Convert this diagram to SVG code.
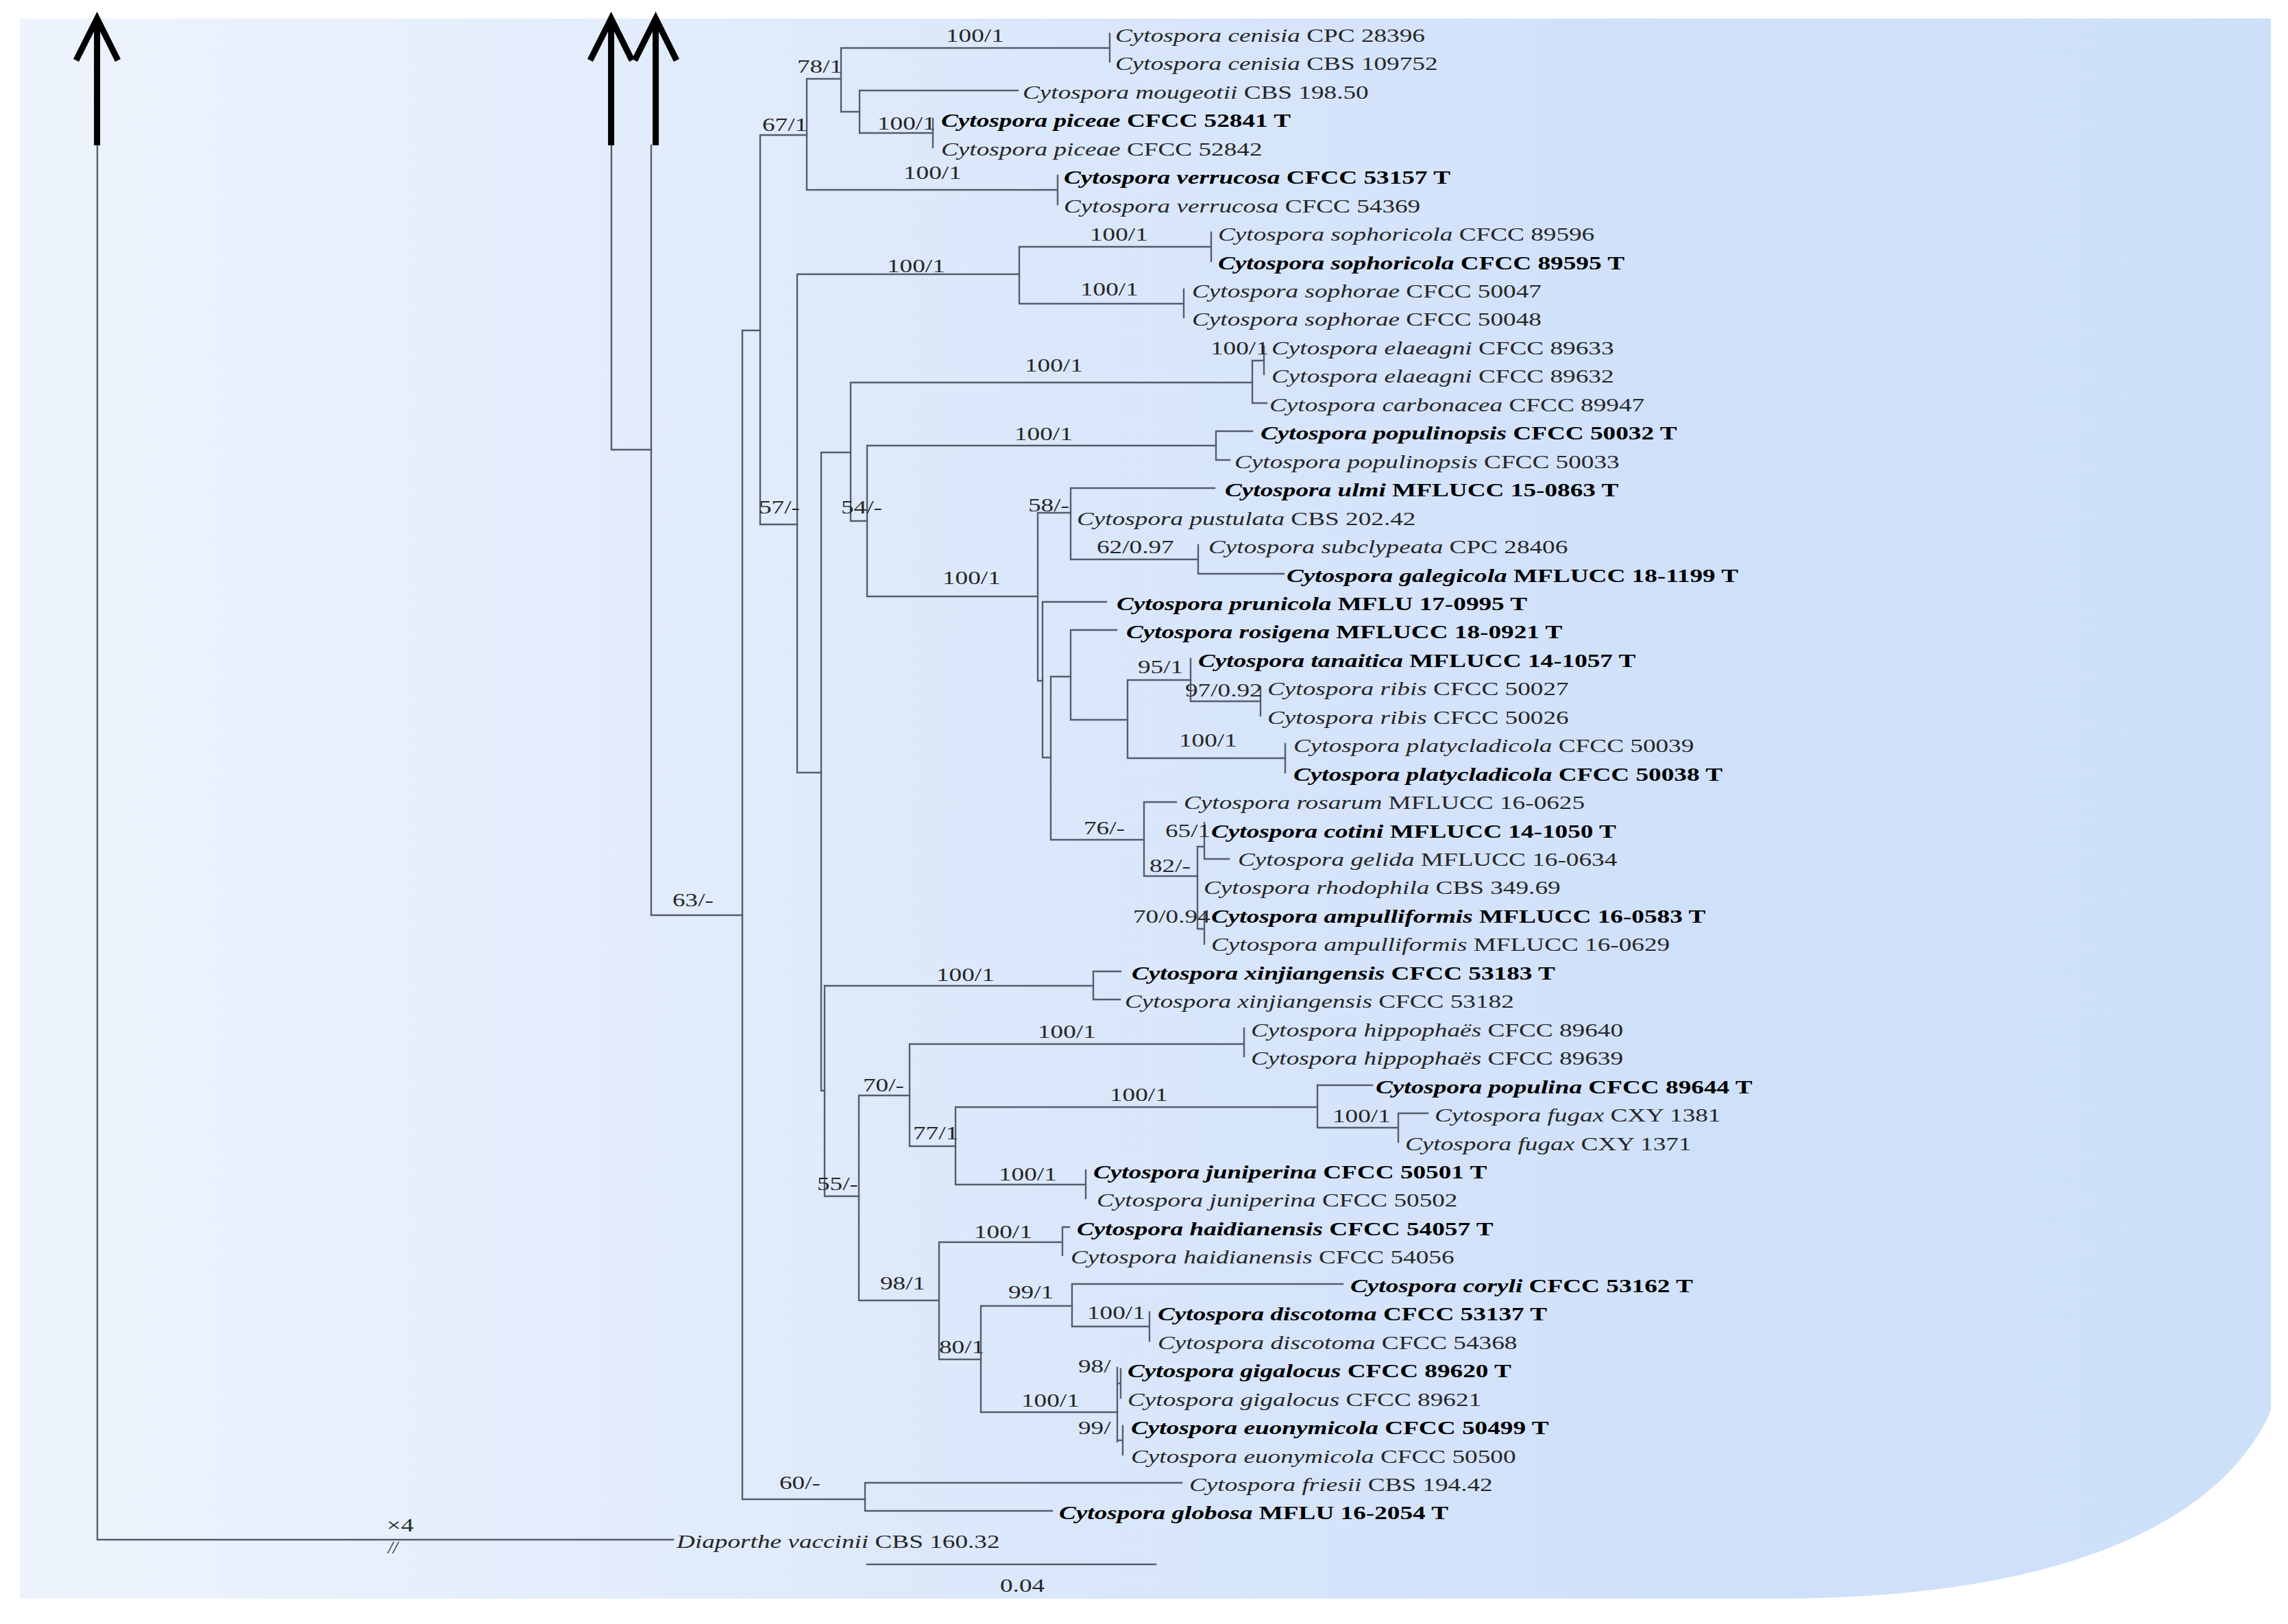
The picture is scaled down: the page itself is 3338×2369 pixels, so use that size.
<svg xmlns="http://www.w3.org/2000/svg" width="3338" height="2369" viewBox="0 0 3338 2369">
<defs>
<linearGradient id="bg" gradientUnits="userSpaceOnUse" x1="29" y1="0" x2="3313" y2="0">
<stop offset="0" stop-color="#eef4fd"/>
<stop offset="0.4" stop-color="#dde9fb"/>
<stop offset="0.75" stop-color="#cfe0fa"/>
<stop offset="1" stop-color="#cde0fa"/>
</linearGradient>
<style>
.t{font-family:"Liberation Serif","Times New Roman",serif;font-size:28px;fill:#262626}
.b{font-weight:bold;fill:#000}
.i{font-style:italic}
.s{font-family:"Liberation Serif","Times New Roman",serif;font-size:28px;fill:#262626}
.c{fill:none;stroke:#555d6b;stroke-width:2.4;stroke-linecap:square}
.a{fill:none;stroke:#000;stroke-width:9;stroke-linejoin:miter}
</style>
</defs>
<rect width="3338" height="2369" fill="#fff"/>
<path d="M29 27 H3313 V2058 C3250 2200 3050 2330 2600 2332 H29 Z" fill="url(#bg)"/>

<g id="connectors" class="c">
<path d="M142 212 V2246 H982"/>
<path d="M892 212 V656 H950"/>
<path d="M950 212 V1335 H1083"/>
<path d="M1083 482 V2187 M1083 482 H1109 M1083 2187 H1262"/>
<path d="M1262 2163 V2204 M1262 2163 H1724 M1262 2204 H1535"/>
<path d="M1109 197 V765 M1109 197 H1177 M1109 765 H1163"/>
<path d="M1177 115 V277 M1177 115 H1227 M1177 277 H1543 M1543 256 V298"/>
<path d="M1227 70 V163 M1227 70 H1619 M1227 163 H1254 M1619 49 V90"/>
<path d="M1254 132 V194 M1254 132 H1485 M1254 194 H1361 M1361 173 V215"/>
<path d="M1163 400 V1127 M1163 400 H1487 M1163 1127 H1198"/>
<path d="M1487 360 V443 M1487 360 H1767 M1487 443 H1727 M1767 339 V381 M1727 422 V463"/>
<path d="M1198 660 V1591 M1198 660 H1241 M1198 1591 H1203"/>
<path d="M1241 558 V760 M1241 558 H1827 M1241 760 H1265"/>
<path d="M1827 526 V588 H1848 M1827 526 H1844 M1844 505 V546"/>
<path d="M1265 650 V870 M1265 650 H1774 M1265 870 H1514"/>
<path d="M1774 629 V671 M1774 629 H1827 M1774 671 H1794"/>
<path d="M1514 748 V993 M1514 748 H1562 M1514 993 H1521"/>
<path d="M1562 712 V816 M1562 712 H1772 M1562 816 H1748 M1748 795 V837 H1873"/>
<path d="M1521 878 V1105 M1521 878 H1614 M1521 1105 H1533"/>
<path d="M1533 987 V1225 M1533 987 H1562 M1533 1225 H1669"/>
<path d="M1562 919 V1050 M1562 919 H1629 M1562 1050 H1645"/>
<path d="M1645 992 V1106 M1645 992 H1737 M1645 1106 H1875 M1875 1085 V1127"/>
<path d="M1737 961 V1023 M1737 1023 H1839 M1839 1002 V1044"/>
<path d="M1669 1170 V1278 M1669 1170 H1716 M1669 1278 H1747"/>
<path d="M1747 1235 V1355 M1747 1235 H1757 M1747 1355 H1757 M1757 1200 V1253 M1757 1253 H1793 M1757 1330 V1377"/>
<path d="M1203 1438 V1745 M1203 1438 H1595 M1203 1745 H1253"/>
<path d="M1595 1417 V1458 M1595 1417 H1635 M1595 1458 H1634"/>
<path d="M1253 1598 V1897 M1253 1598 H1327 M1253 1897 H1370"/>
<path d="M1327 1523 V1672 M1327 1523 H1815 M1327 1672 H1394 M1815 1500 V1541"/>
<path d="M1394 1615 V1728 M1394 1615 H1922 M1394 1728 H1584 M1584 1707 V1748"/>
<path d="M1922 1583 V1645 M1922 1583 H2002 M1922 1645 H2040 M2040 1624 V1666 M2040 1624 H2083"/>
<path d="M1370 1812 V1983 M1370 1812 H1550 M1370 1983 H1431 M1550 1790 V1831 M1550 1790 H1560"/>
<path d="M1431 1905 V2060 M1431 1905 H1564 M1431 2060 H1630"/>
<path d="M1564 1873 V1935 M1564 1873 H1959 M1564 1935 H1677 M1677 1914 V1956"/>
<path d="M1630 1995 V2103 M1630 2018 H1635 M1630 2101 H1638 M1635 1997 V2039 M1638 2080 V2122"/>
<path d="M1265 2282 H1686"/>
</g>

<g id="arrows" class="a">
<path d="M141.6 212 V32 M111 88 L141.6 27 L172 88"/>
<path d="M891.6 212 V32 M861 88 L891.6 27 L922 88"/>
<path d="M956.6 212 V32 M926 88 L956.6 27 L987 88"/>
</g>

<g id="taxa">
<g id="tip1"><text class="t" transform="translate(1627,61) scale(1.33,1)"><tspan class="i">Cytospora cenisia</tspan> CPC 28396</text></g>
<g id="tip2"><text class="t" transform="translate(1627,102) scale(1.33,1)"><tspan class="i">Cytospora cenisia</tspan> CBS 109752</text></g>
<g id="tip3"><text class="t" transform="translate(1492,144) scale(1.33,1)"><tspan class="i">Cytospora mougeotii</tspan> CBS 198.50</text></g>
<g id="tip4"><text class="t b" transform="translate(1373,185) scale(1.33,1)"><tspan class="i">Cytospora piceae</tspan> CFCC 52841 T</text></g>
<g id="tip5"><text class="t" transform="translate(1373,227) scale(1.33,1)"><tspan class="i">Cytospora piceae</tspan> CFCC 52842</text></g>
<g id="tip6"><text class="t b" transform="translate(1552,268) scale(1.33,1)"><tspan class="i">Cytospora verrucosa</tspan> CFCC 53157 T</text></g>
<g id="tip7"><text class="t" transform="translate(1552,310) scale(1.33,1)"><tspan class="i">Cytospora verrucosa</tspan> CFCC 54369</text></g>
<g id="tip8"><text class="t" transform="translate(1777,351) scale(1.33,1)"><tspan class="i">Cytospora sophoricola</tspan> CFCC 89596</text></g>
<g id="tip9"><text class="t b" transform="translate(1777,393) scale(1.33,1)"><tspan class="i">Cytospora sophoricola</tspan> CFCC 89595 T</text></g>
<g id="tip10"><text class="t" transform="translate(1739,434) scale(1.33,1)"><tspan class="i">Cytospora sophorae</tspan> CFCC 50047</text></g>
<g id="tip11"><text class="t" transform="translate(1739,475) scale(1.33,1)"><tspan class="i">Cytospora sophorae</tspan> CFCC 50048</text></g>
<g id="tip12"><text class="t" transform="translate(1855,517) scale(1.33,1)"><tspan class="i">Cytospora elaeagni</tspan> CFCC 89633</text></g>
<g id="tip13"><text class="t" transform="translate(1855,558) scale(1.33,1)"><tspan class="i">Cytospora elaeagni</tspan> CFCC 89632</text></g>
<g id="tip14"><text class="t" transform="translate(1852,600) scale(1.33,1)"><tspan class="i">Cytospora carbonacea</tspan> CFCC 89947</text></g>
<g id="tip15"><text class="t b" transform="translate(1839,641) scale(1.33,1)"><tspan class="i">Cytospora populinopsis</tspan> CFCC 50032 T</text></g>
<g id="tip16"><text class="t" transform="translate(1801,683) scale(1.33,1)"><tspan class="i">Cytospora populinopsis</tspan> CFCC 50033</text></g>
<g id="tip17"><text class="t b" transform="translate(1787,724) scale(1.33,1)"><tspan class="i">Cytospora ulmi</tspan> MFLUCC 15-0863 T</text></g>
<g id="tip18"><text class="t" transform="translate(1571,766) scale(1.33,1)"><tspan class="i">Cytospora pustulata</tspan> CBS 202.42</text></g>
<g id="tip19"><text class="t" transform="translate(1763,807) scale(1.33,1)"><tspan class="i">Cytospora subclypeata</tspan> CPC 28406</text></g>
<g id="tip20"><text class="t b" transform="translate(1877,849) scale(1.33,1)"><tspan class="i">Cytospora galegicola</tspan> MFLUCC 18-1199 T</text></g>
<g id="tip21"><text class="t b" transform="translate(1629,890) scale(1.33,1)"><tspan class="i">Cytospora prunicola</tspan> MFLU 17-0995 T</text></g>
<g id="tip22"><text class="t b" transform="translate(1643,931) scale(1.33,1)"><tspan class="i">Cytospora rosigena</tspan> MFLUCC 18-0921 T</text></g>
<g id="tip23"><text class="t b" transform="translate(1748,973) scale(1.33,1)"><tspan class="i">Cytospora tanaitica</tspan> MFLUCC 14-1057 T</text></g>
<g id="tip24"><text class="t" transform="translate(1849,1014) scale(1.33,1)"><tspan class="i">Cytospora ribis</tspan> CFCC 50027</text></g>
<g id="tip25"><text class="t" transform="translate(1849,1056) scale(1.33,1)"><tspan class="i">Cytospora ribis</tspan> CFCC 50026</text></g>
<g id="tip26"><text class="t" transform="translate(1887,1097) scale(1.33,1)"><tspan class="i">Cytospora platycladicola</tspan> CFCC 50039</text></g>
<g id="tip27"><text class="t b" transform="translate(1887,1139) scale(1.33,1)"><tspan class="i">Cytospora platycladicola</tspan> CFCC 50038 T</text></g>
<g id="tip28"><text class="t" transform="translate(1727,1180) scale(1.33,1)"><tspan class="i">Cytospora rosarum</tspan> MFLUCC 16-0625</text></g>
<g id="tip29"><text class="t b" transform="translate(1767,1222) scale(1.33,1)"><tspan class="i">Cytospora cotini</tspan> MFLUCC 14-1050 T</text></g>
<g id="tip30"><text class="t" transform="translate(1806,1263) scale(1.33,1)"><tspan class="i">Cytospora gelida</tspan> MFLUCC 16-0634</text></g>
<g id="tip31"><text class="t" transform="translate(1756,1304) scale(1.33,1)"><tspan class="i">Cytospora rhodophila</tspan> CBS 349.69</text></g>
<g id="tip32"><text class="t b" transform="translate(1767,1346) scale(1.33,1)"><tspan class="i">Cytospora ampulliformis</tspan> MFLUCC 16-0583 T</text></g>
<g id="tip33"><text class="t" transform="translate(1767,1387) scale(1.33,1)"><tspan class="i">Cytospora ampulliformis</tspan> MFLUCC 16-0629</text></g>
<g id="tip34"><text class="t b" transform="translate(1651,1429) scale(1.33,1)"><tspan class="i">Cytospora xinjiangensis</tspan> CFCC 53183 T</text></g>
<g id="tip35"><text class="t" transform="translate(1641,1470) scale(1.33,1)"><tspan class="i">Cytospora xinjiangensis</tspan> CFCC 53182</text></g>
<g id="tip36"><text class="t" transform="translate(1825,1512) scale(1.33,1)"><tspan class="i">Cytospora hippophaës</tspan> CFCC 89640</text></g>
<g id="tip37"><text class="t" transform="translate(1825,1553) scale(1.33,1)"><tspan class="i">Cytospora hippophaës</tspan> CFCC 89639</text></g>
<g id="tip38"><text class="t b" transform="translate(2007,1595) scale(1.33,1)"><tspan class="i">Cytospora populina</tspan> CFCC 89644 T</text></g>
<g id="tip39"><text class="t" transform="translate(2093,1636) scale(1.33,1)"><tspan class="i">Cytospora fugax</tspan> CXY 1381</text></g>
<g id="tip40"><text class="t" transform="translate(2050,1678) scale(1.33,1)"><tspan class="i">Cytospora fugax</tspan> CXY 1371</text></g>
<g id="tip41"><text class="t b" transform="translate(1595,1719) scale(1.33,1)"><tspan class="i">Cytospora juniperina</tspan> CFCC 50501 T</text></g>
<g id="tip42"><text class="t" transform="translate(1600,1760) scale(1.33,1)"><tspan class="i">Cytospora juniperina</tspan> CFCC 50502</text></g>
<g id="tip43"><text class="t b" transform="translate(1571,1802) scale(1.33,1)"><tspan class="i">Cytospora haidianensis</tspan> CFCC 54057 T</text></g>
<g id="tip44"><text class="t" transform="translate(1562,1843) scale(1.33,1)"><tspan class="i">Cytospora haidianensis</tspan> CFCC 54056</text></g>
<g id="tip45"><text class="t b" transform="translate(1970,1885) scale(1.33,1)"><tspan class="i">Cytospora coryli</tspan> CFCC 53162 T</text></g>
<g id="tip46"><text class="t b" transform="translate(1689,1926) scale(1.33,1)"><tspan class="i">Cytospora discotoma</tspan> CFCC 53137 T</text></g>
<g id="tip47"><text class="t" transform="translate(1689,1968) scale(1.33,1)"><tspan class="i">Cytospora discotoma</tspan> CFCC 54368</text></g>
<g id="tip48"><text class="t b" transform="translate(1645,2009) scale(1.33,1)"><tspan class="i">Cytospora gigalocus</tspan> CFCC 89620 T</text></g>
<g id="tip49"><text class="t" transform="translate(1645,2051) scale(1.33,1)"><tspan class="i">Cytospora gigalocus</tspan> CFCC 89621</text></g>
<g id="tip50"><text class="t b" transform="translate(1650,2092) scale(1.33,1)"><tspan class="i">Cytospora euonymicola</tspan> CFCC 50499 T</text></g>
<g id="tip51"><text class="t" transform="translate(1650,2134) scale(1.33,1)"><tspan class="i">Cytospora euonymicola</tspan> CFCC 50500</text></g>
<g id="tip52"><text class="t" transform="translate(1735,2175) scale(1.33,1)"><tspan class="i">Cytospora friesii</tspan> CBS 194.42</text></g>
<g id="tip53"><text class="t b" transform="translate(1545,2216) scale(1.33,1)"><tspan class="i">Cytospora globosa</tspan> MFLU 16-2054 T</text></g>
<g id="tip54"><text class="t" transform="translate(987,2258) scale(1.33,1)"><tspan class="i">Diaporthe vaccinii</tspan> CBS 160.32</text></g>
</g>

<g id="supports" class="s">
<text transform="translate(1380,61) scale(1.33,1)">100/1</text>
<text transform="translate(1163,106) scale(1.33,1)">78/1</text>
<text transform="translate(1112,191) scale(1.33,1)">67/1</text>
<text transform="translate(1280,189) scale(1.33,1)">100/1</text>
<text transform="translate(1318,261) scale(1.33,1)">100/1</text>
<text transform="translate(1590,351) scale(1.33,1)">100/1</text>
<text transform="translate(1294,397) scale(1.33,1)">100/1</text>
<text transform="translate(1576,431) scale(1.33,1)">100/1</text>
<text transform="translate(1766,517) scale(1.33,1)">100/1</text>
<text transform="translate(1495,542) scale(1.33,1)">100/1</text>
<text transform="translate(1480,642) scale(1.33,1)">100/1</text>
<text transform="translate(1107,749) scale(1.33,1)">57/-</text>
<text transform="translate(1227,749) scale(1.33,1)">54/-</text>
<text transform="translate(1500,746) scale(1.33,1)">58/-</text>
<text transform="translate(1600,807) scale(1.33,1)">62/0.97</text>
<text transform="translate(1375,852) scale(1.33,1)">100/1</text>
<text transform="translate(1660,982) scale(1.33,1)">95/1</text>
<text transform="translate(1729,1016) scale(1.33,1)">97/0.92</text>
<text transform="translate(1720,1089) scale(1.33,1)">100/1</text>
<text transform="translate(1581,1217) scale(1.33,1)">76/-</text>
<text transform="translate(1700,1221) scale(1.33,1)">65/1</text>
<text transform="translate(1677,1272) scale(1.33,1)">82/-</text>
<text transform="translate(1653,1346) scale(1.33,1)">70/0.94</text>
<text transform="translate(981,1322) scale(1.33,1)">63/-</text>
<text transform="translate(1366,1431) scale(1.33,1)">100/1</text>
<text transform="translate(1514,1514) scale(1.33,1)">100/1</text>
<text transform="translate(1259,1592) scale(1.33,1)">70/-</text>
<text transform="translate(1619,1606) scale(1.33,1)">100/1</text>
<text transform="translate(1944,1637) scale(1.33,1)">100/1</text>
<text transform="translate(1332,1662) scale(1.33,1)">77/1</text>
<text transform="translate(1457,1722) scale(1.33,1)">100/1</text>
<text transform="translate(1192,1736) scale(1.33,1)">55/-</text>
<text transform="translate(1421,1806) scale(1.33,1)">100/1</text>
<text transform="translate(1284,1881) scale(1.33,1)">98/1</text>
<text transform="translate(1471,1894) scale(1.33,1)">99/1</text>
<text transform="translate(1586,1924) scale(1.33,1)">100/1</text>
<text transform="translate(1370,1974) scale(1.33,1)">80/1</text>
<text transform="translate(1573,2002) scale(1.33,1)">98/</text>
<text transform="translate(1490,2052) scale(1.33,1)">100/1</text>
<text transform="translate(1573,2092) scale(1.33,1)">99/</text>
<text transform="translate(1137,2172) scale(1.33,1)">60/-</text>
<text transform="translate(1459,2322) scale(1.33,1)">0.04</text>
<text transform="translate(564,2234) scale(1.33,1)">×4</text>
<text transform="translate(566,2266)" font-style="italic" font-size="26">//</text>
</g>
</svg>
